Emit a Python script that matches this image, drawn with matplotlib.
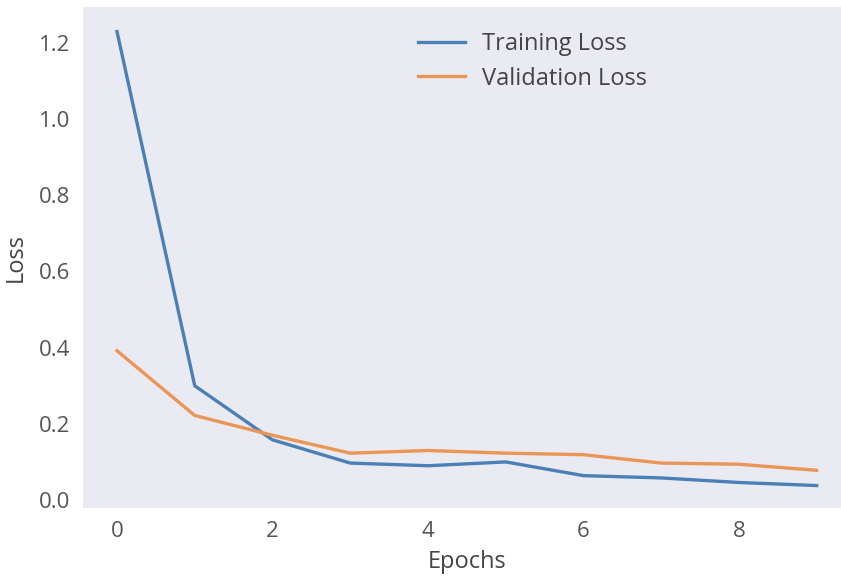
import matplotlib
matplotlib.use("Agg")
import matplotlib.pyplot as plt

#Loss values
epochs = [0, 1, 2, 3, 4, 5, 6, 7, 8, 9]
train_loss = [1.23, 0.30, 0.158, 0.097, 0.090, 0.100, 0.064, 0.058, 0.046, 0.038]
val_loss = [0.392, 0.222, 0.170, 0.123, 0.130, 0.123, 0.119, 0.097, 0.094, 0.078]

plt.rcParams['font.family'] = ['Open Sans', 'DejaVu Sans']

fig = plt.figure(figsize=(8.41, 5.79), dpi=100)
#axes run slightly past the right edge like in the reference
ax = fig.add_axes([0.0987, 0.1226, 0.914, 0.865])
ax.set_facecolor('#EAEAF2')
for s in ax.spines.values():
    s.set_visible(False)

ax.plot(epochs, train_loss, color='#4a80b5', lw=2.4, label='Training Loss')
ax.plot(epochs, val_loss, color='#e99656', lw=2.4, label='Validation Loss')

ax.set_xlim(-0.437, 9.45)
ax.set_ylim(-0.021, 1.294)
ax.set_xticks([0, 2, 4, 6, 8])
ax.set_yticks([0.0, 0.2, 0.4, 0.6, 0.8, 1.0, 1.2])
ax.tick_params(length=0, labelsize=16, colors='#555555', pad=9)
ax.set_xlabel("Epochs", fontsize=17, color='#444444', labelpad=6)
ax.set_ylabel("Loss", fontsize=17, color='#444444', labelpad=8)

ax.legend(loc='upper left', bbox_to_anchor=(0.472, 0.981), bbox_transform=fig.transFigure,
          frameon=False, fontsize=17, labelcolor='#444444', handlelength=2.0,
          handletextpad=0.72, labelspacing=0.44)

fig.savefig("out.png", dpi=100)
